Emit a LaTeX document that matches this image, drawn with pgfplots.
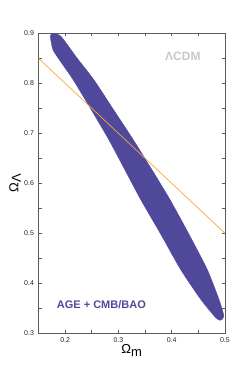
\documentclass[border=0pt]{standalone}
\usepackage{fontspec}
\setmainfont{Liberation Sans}
\usepackage{pgfplots}
\pgfplotsset{compat=1.18}
\definecolor{purp}{RGB}{80,72,155}
\definecolor{orng}{RGB}{247,168,55}
\definecolor{lgray}{RGB}{200,200,200}
\definecolor{axgray}{RGB}{90,90,95}
\begin{document}
\begin{tikzpicture}
\begin{axis}[
  scale only axis,
  width=186.5pt, height=300pt,
  xmin=0.15, xmax=0.5, ymin=0.3, ymax=0.9,
  xtick={0.2,0.3,0.4,0.5},
  minor xtick={0.15,0.25,0.35,0.45},
  ytick={0.3,0.4,0.5,0.6,0.7,0.8,0.9},
  minor ytick={0.35,0.45,0.55,0.65,0.75,0.85},
  tick align=inside,
  major tick length=3pt, minor tick length=3pt,
  axis line style={axgray, line width=0.8pt},
  every tick/.style={axgray, line width=0.6pt},
  tick label style={font=\fontsize{7}{8}\selectfont, text=black!85},
  /pgf/number format/assume math mode=true,
  /pgf/number format/fixed, /pgf/number format/fixed zerofill, /pgf/number format/precision=1,
  xticklabel style={yshift=-1pt},
  yticklabel style={xshift=-1pt},
  xlabel={\fontsize{13}{13}\selectfont Ω\raisebox{-2.5pt}{m}},
  ylabel={\fontsize{13}{13}\selectfont Ω\raisebox{-2.5pt}{Λ}},
  xlabel style={at={(axis description cs:0.5,0)}, anchor=north, yshift=-8pt},
  ylabel style={at={(axis description cs:0,0.5)}, anchor=south, yshift=14pt},
]
\addplot[fill=purp, draw=purp, line width=0.3pt, smooth, tension=0.4] coordinates {
(0.172,0.895) (0.177,0.867) (0.195,0.838) (0.215,0.807) (0.249,0.747) (0.282,0.687) (0.312,0.627) (0.342,0.567) (0.380,0.497) (0.417,0.427) (0.455,0.367) (0.482,0.332) (0.491,0.326)
(0.498,0.334) (0.489,0.367) (0.467,0.427) (0.433,0.497) (0.397,0.567) (0.363,0.627) (0.328,0.687) (0.291,0.747) (0.254,0.807) (0.222,0.851) (0.193,0.893) (0.181,0.899) (0.174,0.898)
} -- cycle;
\addplot[orng, line width=0.7pt] coordinates {(0.15,0.85) (0.5,0.5)};
\node[text=lgray, font=\fontsize{12}{12}\selectfont\bfseries] at (axis cs:0.421,0.853) {ΛCDM};
\node[text=purp, font=\fontsize{11}{11}\selectfont\bfseries] at (axis cs:0.268,0.357) {AGE + CMB/BAO};
\end{axis}
\path (current axis.south west) ++(-38.5pt,-40.7pt) rectangle ++(249pt,374pt);
\end{tikzpicture}
\end{document}
